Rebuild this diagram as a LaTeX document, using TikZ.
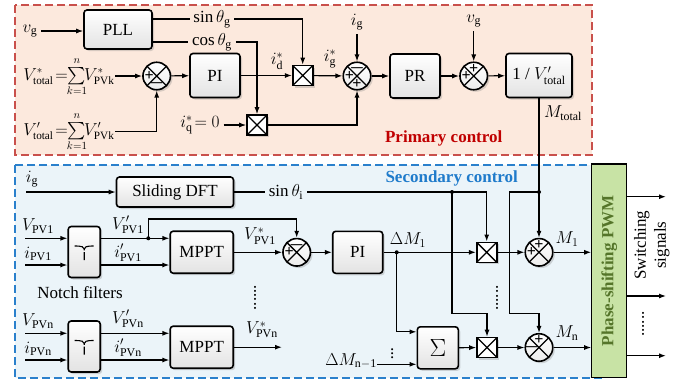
\documentclass[tikz,border=0pt]{standalone}
\usepackage{fontspec}
\setmainfont{Liberation Serif}
\usepackage{amsmath}
\usetikzlibrary{arrows.meta,shadows,calc}

\definecolor{primfill}{HTML}{FCE9DD}
\definecolor{primline}{HTML}{C9504B}
\definecolor{primtext}{HTML}{C00000}
\definecolor{secfill}{HTML}{EBF4F9}
\definecolor{secline}{HTML}{2A80CC}
\definecolor{sectext}{HTML}{1F7BCB}
\definecolor{pwmfill}{HTML}{C8E3A5}
\definecolor{pwmtext}{HTML}{55752A}

\begin{document}
\begin{tikzpicture}[x=1pt, y=-1pt, font=\fontsize{17}{20}\selectfont,
    >={Latex[length=7pt,width=5pt]}, line width=1.2pt,
    shad/.style={drop shadow={opacity=0.3, shadow xshift=2pt, shadow yshift=-2pt}},
    blk/.style={draw, line width=1.6pt, rounded corners=3pt, top color=white,
        bottom color=gray!22, shad, inner sep=1pt},
    mul/.style={draw, line width=1.6pt, fill=white, minimum size=20pt, inner sep=0pt, shad,
        path picture={\draw[line width=1.3pt]
            (path picture bounding box.north west) -- (path picture bounding box.south east)
            (path picture bounding box.north east) -- (path picture bounding box.south west);}},
    sum/.style={circle, draw, line width=1.6pt, top color=white, bottom color=gray!15,
        minimum size=27.5pt, inner sep=0pt, shad,
        path picture={\draw[line width=1.3pt]
            (path picture bounding box.north west) -- (path picture bounding box.south east)
            (path picture bounding box.north east) -- (path picture bounding box.south west);}},
    sgn/.style={font=\fontsize{16}{16}\selectfont\bfseries, inner sep=0pt, text=black},
    frm/.style={font=\fontsize{16}{18}\selectfont, inner sep=0pt},
    notch/.style={blk, minimum width=32pt, minimum height=51pt,
        path picture={\draw[line width=1.1pt]
            ($(path picture bounding box.center)+(-9.5pt,6pt)$) .. controls
            ($(path picture bounding box.center)+(-2pt,6pt)$) and
            ($(path picture bounding box.center)+(0pt,5pt)$) ..
            ($(path picture bounding box.center)+(0pt,0pt)$) .. controls
            ($(path picture bounding box.center)+(0pt,5pt)$) and
            ($(path picture bounding box.center)+(2pt,6pt)$) ..
            ($(path picture bounding box.center)+(9.5pt,6pt)$)
            ($(path picture bounding box.center)+(0pt,0pt)$) --
            ($(path picture bounding box.center)+(0pt,-8pt)$);}}]
    \useasboundingbox (0,0) rectangle (687,381);

    % Primary control
    \fill[primfill] (15,5) rectangle (592,155);
    \draw[primline, line width=1.6pt, dash pattern=on 8pt off 4pt] (15,5) rectangle (592,155);
    \node[font=\fontsize{17}{20}\selectfont\bfseries, text=primtext] (ptitle) at (443.7,138) {Primary control};

    % Secondary control
    \fill[secfill] (15,165) rectangle (604,378);
    \draw[secline, line width=1.6pt, dash pattern=on 8pt off 4pt] (15,165) rectangle (604,378);
    \node[font=\fontsize{17}{20}\selectfont\bfseries, text=sectext] (stitle) at (451.7,178) {Secondary control};

    % PLL
    \node (vg1) at (30,31) {$v_\mathrm{g}$};
    \node[blk, minimum width=68pt, minimum height=39pt] (pll) at (118,29.5) {PLL};
    \node (sing) at (212,19) {$\sin\theta_\mathrm{g}$};
    \node (cosg) at (212,42) {$\cos\theta_\mathrm{g}$};
    \draw[->] (vg1.east) -- (vg1.east -| pll.west);
    \draw (sing.west -| pll.east) -- (sing.west);
    \draw (cosg.west -| pll.east) -- (cosg.west);

    % Voltage loop
    \node[frm, anchor=east] (vtot) at (115,77) {$V^{*}_{\mathrm{total}}\!=\!\!\sum\limits_{k=1}^{n}\!\!V^{*}_{\mathrm{PVk}}$};
    \node[frm, anchor=east] (vtotp) at (115,132) {$V'_{\mathrm{total}}\!=\!\!\sum\limits_{k=1}^{n}\!\!V'_{\mathrm{PVk}}$};
    \node[sum] (s1) at (156.7,76) {};
    \node[sgn] (s1l) at ($(s1)+(-7.5,0)$) {+};
    \node[sgn] (s1b) at ($(s1)+(0,7.5)$) {$\boldsymbol{-}$};
    \node[blk, minimum width=50pt, minimum height=44pt] (pi1) at (215,75.5) {PI};
    \node[mul] (m1) at (302.7,75.5) {};
    \node[mul] (m2) at (257,125) {};
    \node (id) at (277,61) {$i^{*}_{\mathrm{d}}$};
    \node (iq) at (200,125) {$i^{*}_{\mathrm{q}}\!= 0$};
    \draw[->] (vtot.east |- s1) -- (s1.west);
    \draw[->] (vtotp.east |- 0,131.7) -| (s1.south);
    \draw[->] (s1) -- (pi1);
    \draw[->] (pi1) -- (m1);
    \draw[->] (sing.east) -| (m1.north);
    \draw[->] (cosg.east) -| (m2.north);
    \draw[->] (iq.east) -- (m2.west);

    % Current loop
    \node[sum] (s2) at (357,76) {};
    \node[sgn] (s2t) at ($(s2)+(0,-7.5)$) {$\boldsymbol{-}$};
    \node[sgn] (s2l) at ($(s2)+(-7.5,0)$) {+};
    \node[sgn] (s2b) at ($(s2)+(0,7.5)$) {+};
    \node (ig1) at (357,22) {$i_\mathrm{g}$};
    \node (igs) at (330,59) {$i^{*}_{\mathrm{g}}$};
    \node[blk, minimum width=50pt, minimum height=44pt] (pr) at (415,76) {PR};
    \node[sum] (s3) at (473.7,76) {};
    \node[sgn] (s3t) at ($(s3)+(0,-7.5)$) {+};
    \node[sgn] (s3l) at ($(s3)+(-7.5,0)$) {+};
    \node (vg2) at (473.7,21) {$v_\mathrm{g}$};
    \node[blk, minimum width=66pt, minimum height=44pt] (inv) at (539,75.5) {1 / $V'_{\mathrm{total}}$};
    \node (mtot) at (563,113) {$M_{\mathrm{total}}$};
    \draw[->] (m1) -- (s2);
    \draw[->] (m2.east) -| (s2.south);
    \draw[->] (ig1) -- (s2);
    \draw[->] (s2) -- (pr);
    \draw[->] (pr) -- (s3);
    \draw[->] (vg2) -- (s3);
    \draw[->] (s3) -- (inv);

    % Sliding DFT
    \node (ig2) at (32,179) {$i_\mathrm{g}$};
    \coordinate (igin) at (26,192);
    \node[blk, minimum width=117pt, minimum height=30pt] (sdft) at (175,192) {Sliding DFT};
    \node (sini) at (286,192) {$\sin\theta_\mathrm{i}$};
    \draw[->] (igin) -- (sdft.west);
    \draw (sdft.east) -- (sini.west);

    % PV channel 1
    \node (vpv1) at (38,226) {$V_{\mathrm{PV1}}$};
    \node (ipv1) at (38,254) {$i_{\mathrm{PV1}}$};
    \coordinate (v1in) at (25,238.3);
    \coordinate (i1in) at (25,265);
    \node[notch] (nf1) at (84.2,252) {};
    \node (vpv1p) at (128,225) {$V'_{\mathrm{PV1}}$};
    \node (ipv1p) at (128,253) {$i'_{\mathrm{PV1}}$};
    \node[blk, minimum width=63pt, minimum height=42pt] (mp1) at (201.7,252.2) {MPPT};
    \node (vref1) at (260,236) {$V^{*}_{\mathrm{PV1}}$};
    \coordinate (jv1) at (148.3,238.3);
    \node[sum] (s6) at (296.7,252.3) {};
    \node[sgn] (s6t) at ($(s6)+(0,-7.5)$) {$\boldsymbol{-}$};
    \node[sgn] (s6l) at ($(s6)+(-7.5,0)$) {+};
    \node[blk, minimum width=50pt, minimum height=42pt] (pi2) at (357.7,252.3) {PI};
    \node (dm1) at (408,240) {$\Delta M_1$};
    \coordinate (jd) at (396.7,252.3);
    \draw[->] (v1in) -- (v1in -| nf1.west);
    \draw[->] (i1in) -- (i1in -| nf1.west);
    \draw[->] (v1in -| nf1.east) -- (v1in -| mp1.west);
    \draw[->] (i1in -| nf1.east) -- (i1in -| mp1.west);
    \draw[->] (jv1) -- ++(0,-19.3) -| (s6.north);
    \fill (jv1) circle (2pt);
    \draw[->] (mp1.east |- s6) -- (s6.west);
    \draw[->] (s6) -- (pi2);
    \node (nlab) at (80,293) {Notch filters};
    \node[rotate=90] (vdots1) at (255,297.5) {......};

    % PV channel n
    \node (vpvn) at (38,321) {$V_{\mathrm{PVn}}$};
    \node (ipvn) at (38,349) {$i_{\mathrm{PVn}}$};
    \coordinate (vnin) at (25,333.3);
    \coordinate (inin) at (25,360);
    \node[notch] (nfn) at (84.2,346.5) {};
    \node (vpvnp) at (128,319) {$V'_{\mathrm{PVn}}$};
    \node (ipvnp) at (128,348) {$i'_{\mathrm{PVn}}$};
    \node[blk, minimum width=63pt, minimum height=42pt] (mpn) at (201.7,347.2) {MPPT};
    \node (vrefn) at (262,330) {$V^{*}_{\mathrm{PVn}}$};
    \coordinate (vsn) at (282,347.2);
    \draw[->] (vnin) -- (vnin -| nfn.west);
    \draw[->] (inin) -- (inin -| nfn.west);
    \draw[->] (vnin -| nfn.east) -- (vnin -| mpn.west);
    \draw[->] (inin -| nfn.east) -- (inin -| mpn.west);
    \draw[->] (mpn) -- (vsn);

    % Modulation index
    \coordinate (js) at (452,192);
    \coordinate (jm) at (539,192);
    \node[mul] (m3) at (486.7,252.3) {};
    \node[mul] (m4) at (487,347.5) {};
    \node[blk, minimum width=41pt, minimum height=42pt, font=\fontsize{24}{24}\selectfont] (sig) at (437.8,347.8) {$\Sigma$};
    \node (dmn) at (351,361) {$\Delta M_{\mathrm{n-1}}$};
    \coordinate (dmin) at (377,364.3);
    \node[inner sep=0pt] (vdots2) at (392.3,351) {$\vdots$};
    \node[rotate=90] (vdots3) at (497,298) {......};
    \node[sum] (s4) at (539,252.3) {};
    \node[sgn] (s4t) at ($(s4)+(0,-7.5)$) {+};
    \node[sgn] (s4l) at ($(s4)+(-7.5,0)$) {+};
    \node[sum] (s5) at (539,347.5) {};
    \node[sgn] (s5t) at ($(s5)+(0,-7.5)$) {+};
    \node[sgn] (s5l) at ($(s5)+(-7.5,0)$) {$\boldsymbol{-}$};
    \node (m1lab) at (567,239) {$M_1$};
    \node (mnlab) at (567,333) {$M_\mathrm{n}$};
    \draw[->] (sini.east) -| (m3.north);
    \draw[->] (js) -- ++(0,121.3) -| (m4.north);
    \fill (js) circle (2pt);
    \draw[->] (inv.south) -- (s4.north);
    \draw[->] (jm) -- ++(-29.7,0) -- ++(0,121.3) -| (s5.north);
    \fill (jm) circle (2pt);
    \draw[->] (pi2) -- (m3);
    \draw[->] (jd) |- ($(sig.west)+(0,-16)$);
    \fill (jd) circle (2pt);
    \draw[->] (dmin) -- (dmin -| sig.west);
    \draw[->] (sig) -- (m4);
    \draw[->] (m3) -- (s4);
    \draw[->] (m4) -- (s5);

    % Phase-shifting PWM
    \node[draw, line width=1.2pt, fill=pwmfill, rotate=90, minimum width=213.5pt, minimum height=35pt,
        font=\fontsize{17}{20}\selectfont\bfseries, text=pwmtext] (pwm) at (609.3,270.8) {Phase-shifting PWM};
    \draw[->] (s4.east) -- (s4.east -| pwm.north);
    \draw[->] (s5.east) -- (s5.east -| pwm.north);
    \coordinate (o1) at (666,196.7);
    \coordinate (o2) at (666,296);
    \coordinate (o3) at (666,355.7);
    \draw[->] (o1 -| pwm.south) -- (o1);
    \draw[->] (o2 -| pwm.south) -- (o2);
    \draw[->] (o3 -| pwm.south) -- (o3);
    \node[rotate=90, align=center] (swsig) at (651.7,245) {Switching\\signals};
    \node[rotate=90] (odots) at (643,324) {......};
\end{tikzpicture}
\end{document}
